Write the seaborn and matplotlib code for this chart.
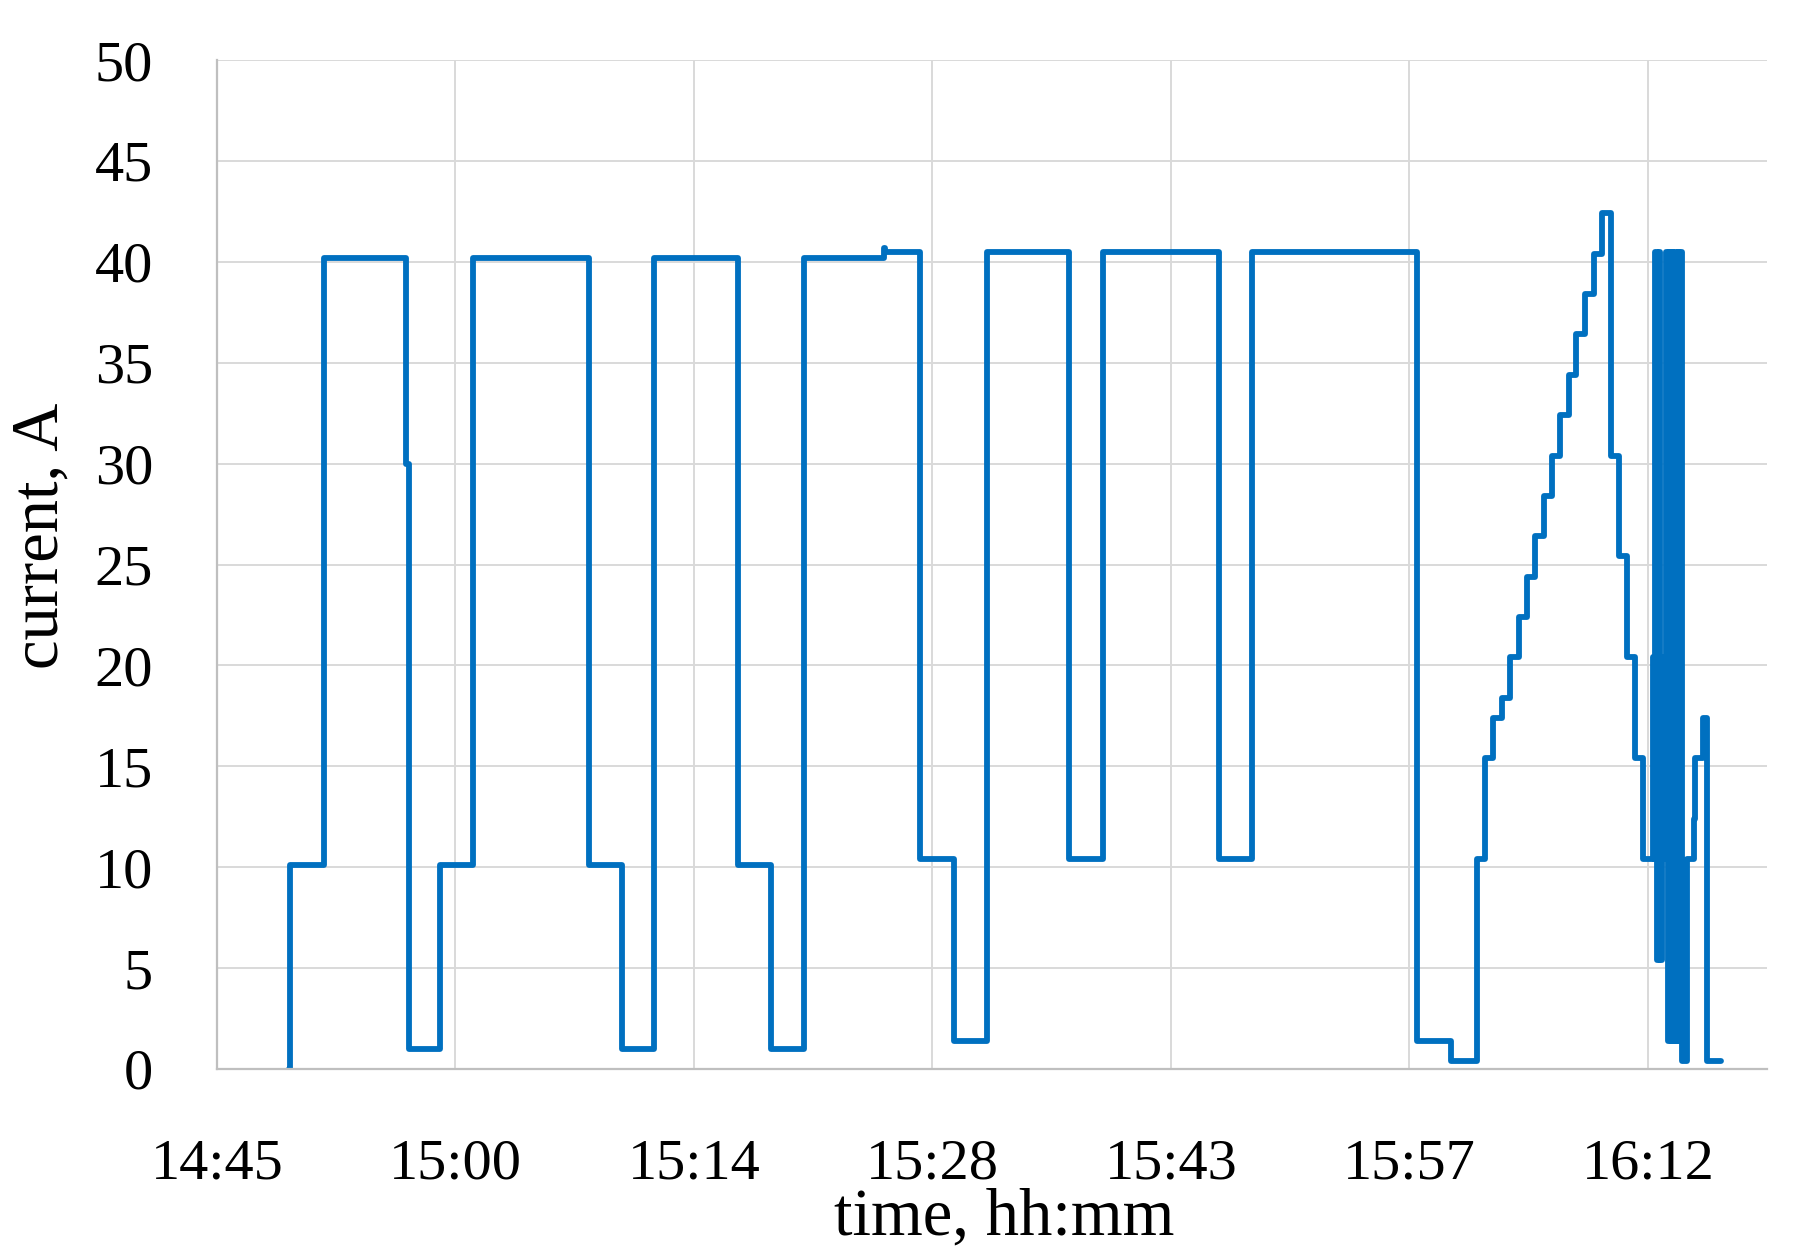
import pandas as pd
import seaborn as sns
import matplotlib.pyplot as plt
from matplotlib.ticker import FuncFormatter

# transition times (value holds from this time until the next one)
times = [
    "14:49:59", "14:50:00", "14:52:03", "14:57:01", "14:57:11", "14:59:03",
    "15:01:04", "15:08:03", "15:10:04", "15:12:01", "15:17:02", "15:19:04",
    "15:21:02", "15:25:51", "15:25:57", "15:28:04", "15:30:05", "15:32:04",
    "15:37:02", "15:39:05", "15:46:05", "15:48:06", "15:58:05", "16:00:07",
    "16:01:40", "16:02:10", "16:02:40", "16:03:10", "16:03:41", "16:04:11",
    "16:04:41", "16:05:11", "16:05:42", "16:06:13", "16:06:43", "16:07:13",
    "16:07:40", "16:08:13", "16:08:43", "16:09:14", "16:09:47", "16:10:14",
    "16:10:44", "16:11:14", "16:11:41",
    "16:12:17", "16:12:21", "16:12:25", "16:12:27", "16:12:33", "16:12:39",
    "16:12:45", "16:12:50", "16:12:54", "16:12:58", "16:13:02",
    "16:13:07", "16:13:12", "16:13:17", "16:13:22", "16:13:27", "16:13:32",
    "16:13:37", "16:13:42", "16:13:47", "16:13:52", "16:13:57", "16:14:02",
    "16:14:04", "16:14:21", "16:14:45", "16:14:51", "16:15:21", "16:15:33",
    "16:16:25",
]
current = [
    0.0, 10.1, 40.2, 30.0, 1.0, 10.1,
    40.2, 10.1, 1.0, 40.2, 10.1, 1.0,
    40.2, 40.7, 40.5, 10.4, 1.4, 40.5,
    10.4, 40.5, 10.4, 40.5, 1.4, 0.4,
    10.4, 15.4, 17.4, 18.4, 20.4, 22.4,
    24.4, 26.4, 28.4, 30.4, 32.4, 34.4,
    36.4, 38.4, 40.4, 42.4, 30.4, 25.4,
    20.4, 15.4, 10.4,
    20.4, 10.4, 20.4, 40.5, 5.4, 40.5,
    5.4, 20.4, 10.4, 20.4, 10.4,
    40.5, 1.4, 40.5, 1.4, 40.5, 1.4,
    40.5, 1.4, 40.5, 1.4, 40.5, 1.4,
    0.4, 10.4, 12.4, 15.4, 17.4, 0.4,
    0.4,
]

x_ticks = [0.615, 0.625, 0.635, 0.645, 0.655, 0.665, 0.675]
y_ticks = [0, 5, 10, 15, 20, 25, 30, 35, 40, 45, 50]

df = pd.DataFrame({'time': times, 'current': current})
# time of day as fraction of a day, like the spreadsheet axis
df['day'] = pd.to_timedelta(df['time']) / pd.Timedelta(days=1)

sns.set_style('white')
plt.rcParams['font.family'] = ['Liberation Serif', 'DejaVu Serif']
plt.rcParams['text.color'] = 'black'
plt.rcParams['axes.labelcolor'] = 'black'
plt.rcParams['lines.linewidth'] = 4.2

fig = plt.figure(figsize=(18.07, 12.57), dpi=100)
ax = fig.add_axes([0.120, 0.1496, 0.858, 0.8026])

sns.lineplot(data=df, x='day', y='current', ax=ax, color='#0070C0',
             linewidth=4.2, drawstyle='steps-post', estimator=None, sort=False)


def hhmm(v, pos):
    s = int(round(v * 86400))
    return '%d:%02d' % (s // 3600, (s % 3600) // 60)


ax.set_xlim(0.615, 0.68)
ax.set_ylim(0, 50)
ax.set_xticks(x_ticks)
ax.set_yticks(y_ticks)
ax.xaxis.set_major_formatter(FuncFormatter(hhmm))
ax.grid(True, color='#D9D9D9', linewidth=1.4)
ax.set_axisbelow(True)

for side in ['top', 'right']:
    ax.spines[side].set_visible(False)
for side in ['left', 'bottom']:
    ax.spines[side].set_color('#BFBFBF')
    ax.spines[side].set_linewidth(1.6)

ax.tick_params(axis='both', length=0, labelsize=42, colors='black')
ax.tick_params(axis='y', pad=46)
ax.tick_params(axis='x', pad=50)

ax.set_xlabel('time, hh:mm', fontsize=48, color='black')
ax.set_ylabel('current, A', fontsize=48, color='black')
ax.xaxis.set_label_coords(0.508, -0.118)
ax.yaxis.set_label_coords(-0.094, 0.528)

fig.savefig('out.png', dpi=100)
